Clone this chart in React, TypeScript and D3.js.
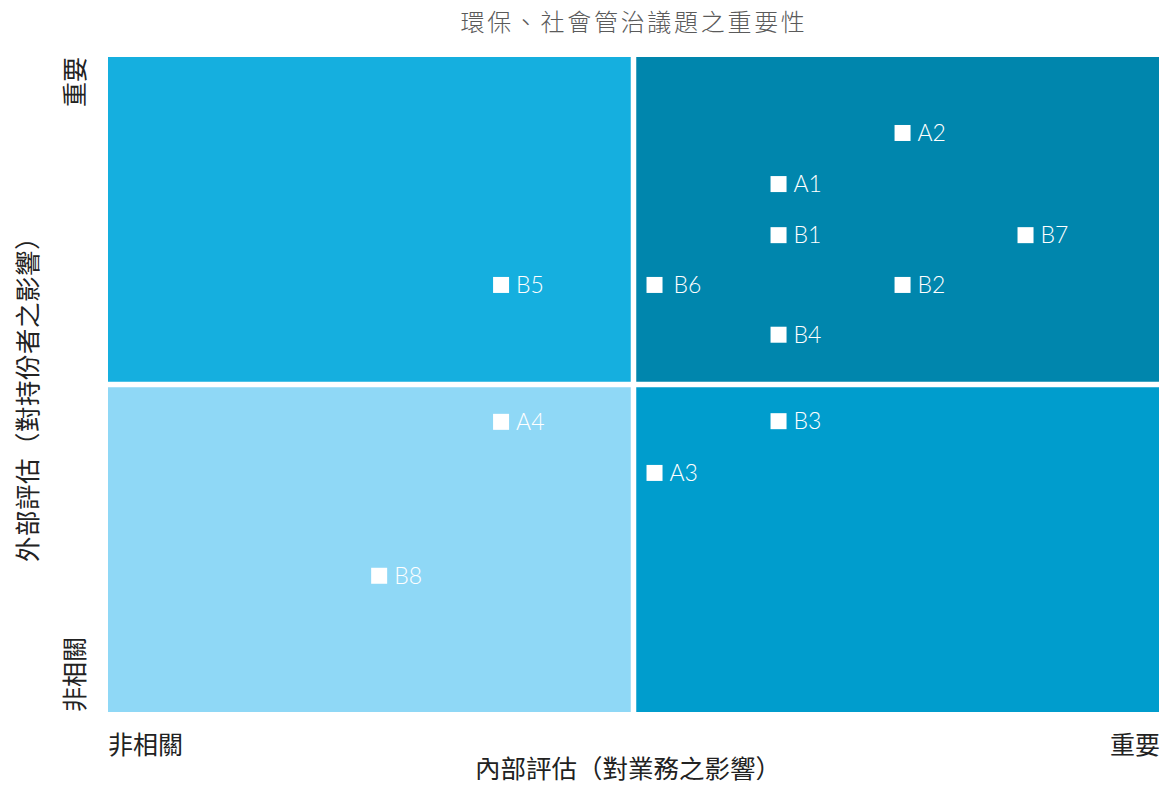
import React from "react";
import * as d3 from "d3";

const title = "環保、社會管治議題之重要性";
const xAxisTitle = "內部評估（對業務之影響）";
const yAxisTitle = "外部評估（對持份者之影響）";
const lowLabel = "非相關";
const highLabel = "重要";

const pointLabels = ["A1", "A2", "A3", "A4", "B1", "B2", "B3", "B4", "B5", "B6", "B7", "B8"];
const pointX = [63.8, 75.6, 52.0, 37.4, 63.8, 75.6, 63.8, 63.8, 37.4, 52.0, 87.3, 25.8];
const pointY = [80.6, 88.4, 36.5, 44.3, 72.8, 65.2, 44.4, 57.6, 65.2, 65.2, 72.8, 20.8];

const quadrantNames = ["topLeft", "topRight", "bottomLeft", "bottomRight"];
const quadrantColors = ["#15AFDF", "#0086AD", "#8FD8F6", "#009DCD"];

export default function App() {
  const W = 1170;
  const H = 786;
  const left = 108, right = 1159, top = 57, bottom = 712;
  const x = d3.scaleLinear().domain([0, 100]).range([left, right]);
  const y = d3.scaleLinear().domain([0, 100]).range([bottom, top]);
  const gap = 2.75;
  const mid = 50;

  const quads = quadrantNames.map((n, i) => {
    const isLeft = i % 2 === 0;
    const isTop = i < 2;
    const x0 = isLeft ? x(0) : x(mid) + gap;
    const x1 = isLeft ? x(mid) - gap : x(100);
    const y0 = isTop ? y(100) : y(mid) + gap;
    const y1 = isTop ? y(mid) - gap : y(0);
    return { n, x: x0, y: y0, w: x1 - x0, h: y1 - y0, c: quadrantColors[i] };
  });

  const cjk = "'Noto Sans CJK TC', 'Noto Sans CJK SC', sans-serif";
  const ms = 16;
  const axisColor = "#222";

  return (
    <svg width={W} height={H} style={{ position: "absolute", left: 0, top: 0 }}>
      <rect x={0} y={0} width={W} height={H} fill="#ffffff" />
      <text x={634} y={31} textAnchor="middle" fontFamily={cjk} fontWeight={300} fontSize={24} letterSpacing={2.7} fill="#5a5a5a">
        {title}
      </text>
      {quads.map((q) => (
        <rect key={q.n} x={q.x} y={q.y} width={q.w} height={q.h} fill={q.c} />
      ))}
      {pointLabels.map((l, i) => (
        <g key={l}>
          <rect x={x(pointX[i]) - ms / 2} y={y(pointY[i]) - ms / 2} width={ms} height={ms} fill="#fff" />
          <text
            x={x(pointX[i]) + (l === "B6" ? 19 : 15)}
            y={y(pointY[i]) + 8}
            fill="#fff"
            fontFamily="Lato, 'Open Sans', sans-serif"
            fontWeight={300}
            fontSize={23}
          >
            {l}
          </text>
        </g>
      ))}
      {/* x-axis labels */}
      <text x={left} y={754} fontFamily={cjk} fontWeight={400} fontSize={25} fill={axisColor}>{lowLabel}</text>
      <text x={right + 1} y={754} textAnchor="end" fontFamily={cjk} fontWeight={400} fontSize={25} fill={axisColor}>{highLabel}</text>
      <text x={628} y={778} textAnchor="middle" fontFamily={cjk} fontWeight={400} fontSize={25.5} fill={axisColor}>{xAxisTitle}</text>
      {/* y-axis labels */}
      <text transform={`translate(84,${bottom}) rotate(-90)`} fontFamily={cjk} fontWeight={400} fontSize={25} fill={axisColor}>{lowLabel}</text>
      <text transform={`translate(84,${top}) rotate(-90)`} textAnchor="end" fontFamily={cjk} fontWeight={400} fontSize={25} fill={axisColor}>{highLabel}</text>
      <text transform={`translate(37,393) rotate(-90)`} textAnchor="middle" fontFamily={cjk} fontWeight={400} fontSize={25.5} letterSpacing={0.5} fill={axisColor}>{yAxisTitle}</text>
    </svg>
  );
}
